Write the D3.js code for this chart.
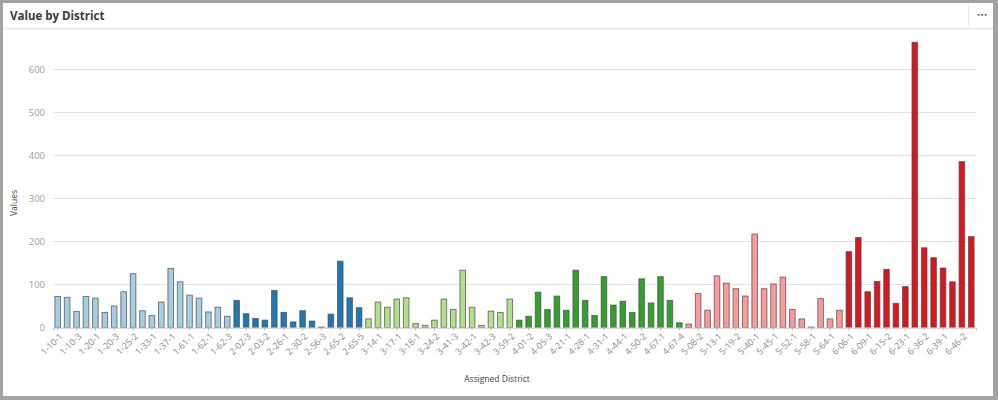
<!DOCTYPE html>
<html><head><meta charset="utf-8">
<script src="https://cdn.jsdelivr.net/npm/d3@7"></script>
<style>
html,body{margin:0;padding:0;background:#a3a3a3;}
svg{display:block;}
</style></head>
<body>
<svg id="chart" width="998" height="400"></svg>
<script>
const categories = [
"1-10-1","1-10-2","1-10-3","1-15-1","1-20-1","1-20-2","1-20-3","1-25-1","1-25-2","1-30-1",
"1-33-1","1-35-1","1-37-1","1-40-1","1-61-1","1-61-2","1-62-1","1-62-2","1-62-3",
"2-02-1","2-02-3","2-03-1","2-03-2","2-20-1","2-26-1","2-30-1","2-30-2","2-56-1","2-56-3",
"2-65-1","2-65-2","2-65-3","2-65-5",
"3-10-1","3-14-1","3-15-1","3-17-1","3-17-2","3-18-1","3-18-2","3-24-2","3-30-1","3-41-3",
"3-41-4","3-42-1","3-42-2","3-42-3","3-50-1","3-59-2",
"4-01-1","4-01-2","4-05-1","4-05-3","4-10-1","4-21-1","4-25-1","4-28-1","4-30-1","4-31-1",
"4-40-1","4-44-1","4-50-1","4-50-2","4-60-1","4-67-1","4-67-2","4-67-4",
"5-08-1","5-08-2","5-10-1","5-13-1","5-19-1","5-19-2","5-30-1","5-40-1","5-44-1","5-45-1",
"5-50-1","5-52-1","5-55-1","5-58-1","5-60-1","5-64-1","5-65-1",
"6-06-1","6-07-1","6-09-1","6-10-1","6-15-2","6-20-1","6-23-1","6-30-1","6-36-2","6-38-1",
"6-39-1","6-40-1","6-46-2","6-50-1"
];
const values = [
72,70,37,72,68,35,50,83,125,39,
28,59,137,106,75,68,36,47,26,
63,32,21,17,86,35,13,39,15,1,
31,154,69,46,
20,59,47,66,69,9,5,17,66,42,
133,47,5,38,35,66,
17,26,82,42,73,40,133,63,28,118,
52,61,35,113,57,118,63,11,
8,79,40,120,103,90,73,217,90,101,
117,42,20,1,67,20,40,
176,209,83,107,135,56,95,662,185,162,
138,106,385,211
];
const groups = ["1","2","3","4","5","6"];
const groupColors = ["#a6cee3","#1f78b4","#b2df8a","#33a02c","#fb9a99","#d7191f"];
const yTicks = [0,100,200,300,400,500,600];
const title = "Value by District";
const xTitle = "Assigned District";
const yTitle = "Values";

const svg = d3.select("#chart");
const font = "'Open Sans', 'Segoe UI', sans-serif";

// card
svg.append("rect").attr("x",3).attr("y",3).attr("width",990).attr("height",393).attr("fill","#fff");
svg.append("line").attr("x1",3).attr("x2",993).attr("y1",28.5).attr("y2",28.5).attr("stroke","#ececec").attr("stroke-width",2);
svg.append("line").attr("x1",968.5).attr("x2",968.5).attr("y1",5).attr("y2",26).attr("stroke","#e6e6e6");
svg.append("text").attr("x",10).attr("y",20).text(title)
  .attr("font-family",font).attr("font-weight",700).attr("font-size",11.5).attr("fill","#3a3a3a");
svg.append("text").attr("x",982).attr("y",17).text("\u2022\u2022\u2022").attr("text-anchor","middle")
  .attr("font-family","DejaVu Sans").attr("font-size",6).attr("fill","#333");

const x = d3.scaleBand().domain(categories).range([53,976]).paddingInner(0.3).paddingOuter(0.15);
const y = d3.scaleLinear().domain([0,600]).range([327.5,69]);
const color = d3.scaleOrdinal().domain(groups).range(groupColors);

// grid
svg.append("g").selectAll("line").data(yTicks).join("line")
  .attr("x1",53).attr("x2",976).attr("y1",d=>Math.round(y(d))+0.5).attr("y2",d=>Math.round(y(d))+0.5)
  .attr("stroke","#e3e3e3").attr("stroke-width",1);

// y axis labels
const yAxis = d3.axisLeft(y).tickValues(yTicks).tickSize(0).tickPadding(8);
const yg = svg.append("g").attr("transform","translate(53,0)").call(yAxis);
yg.select(".domain").remove();
yg.selectAll("text").attr("font-family",font).attr("font-size",9.5).attr("fill","#a0a0a0");

// bars
svg.append("g").selectAll("rect").data(categories).join("rect")
  .attr("x",d=>x(d)+0.5).attr("width",x.bandwidth()-1)
  .attr("y",(d,i)=>y(values[i])).attr("height",(d,i)=>y(0)-y(values[i]))
  .attr("fill",d=>color(d.charAt(0)))
  .attr("stroke","#4a4a4a").attr("stroke-opacity",0.7).attr("stroke-width",1);

// x axis
const xAxis = d3.axisBottom(x).tickValues(categories.filter((d,i)=>i%2===0)).tickSize(3).tickPadding(3);
const xg = svg.append("g").attr("transform",`translate(0,${y(0)})`).call(xAxis);
xg.select(".domain").attr("stroke","#cfcfcf");
xg.selectAll(".tick line").attr("stroke","#bbb");
xg.selectAll("text").attr("font-family",font).attr("font-size",9).attr("fill","#8a8a8a")
  .attr("text-anchor","end").attr("transform","rotate(-45)").attr("dx","-0.3em").attr("dy","0.5em");

svg.append("text").attr("x",497).attr("y",382).attr("text-anchor","middle").text(xTitle)
  .attr("font-family",font).attr("font-size",8.5).attr("fill","#444");
svg.append("text").attr("transform","translate(17,203) rotate(-90)").attr("text-anchor","middle").text(yTitle)
  .attr("font-family",font).attr("font-size",8.5).attr("fill","#444");
</script>
</body></html>
